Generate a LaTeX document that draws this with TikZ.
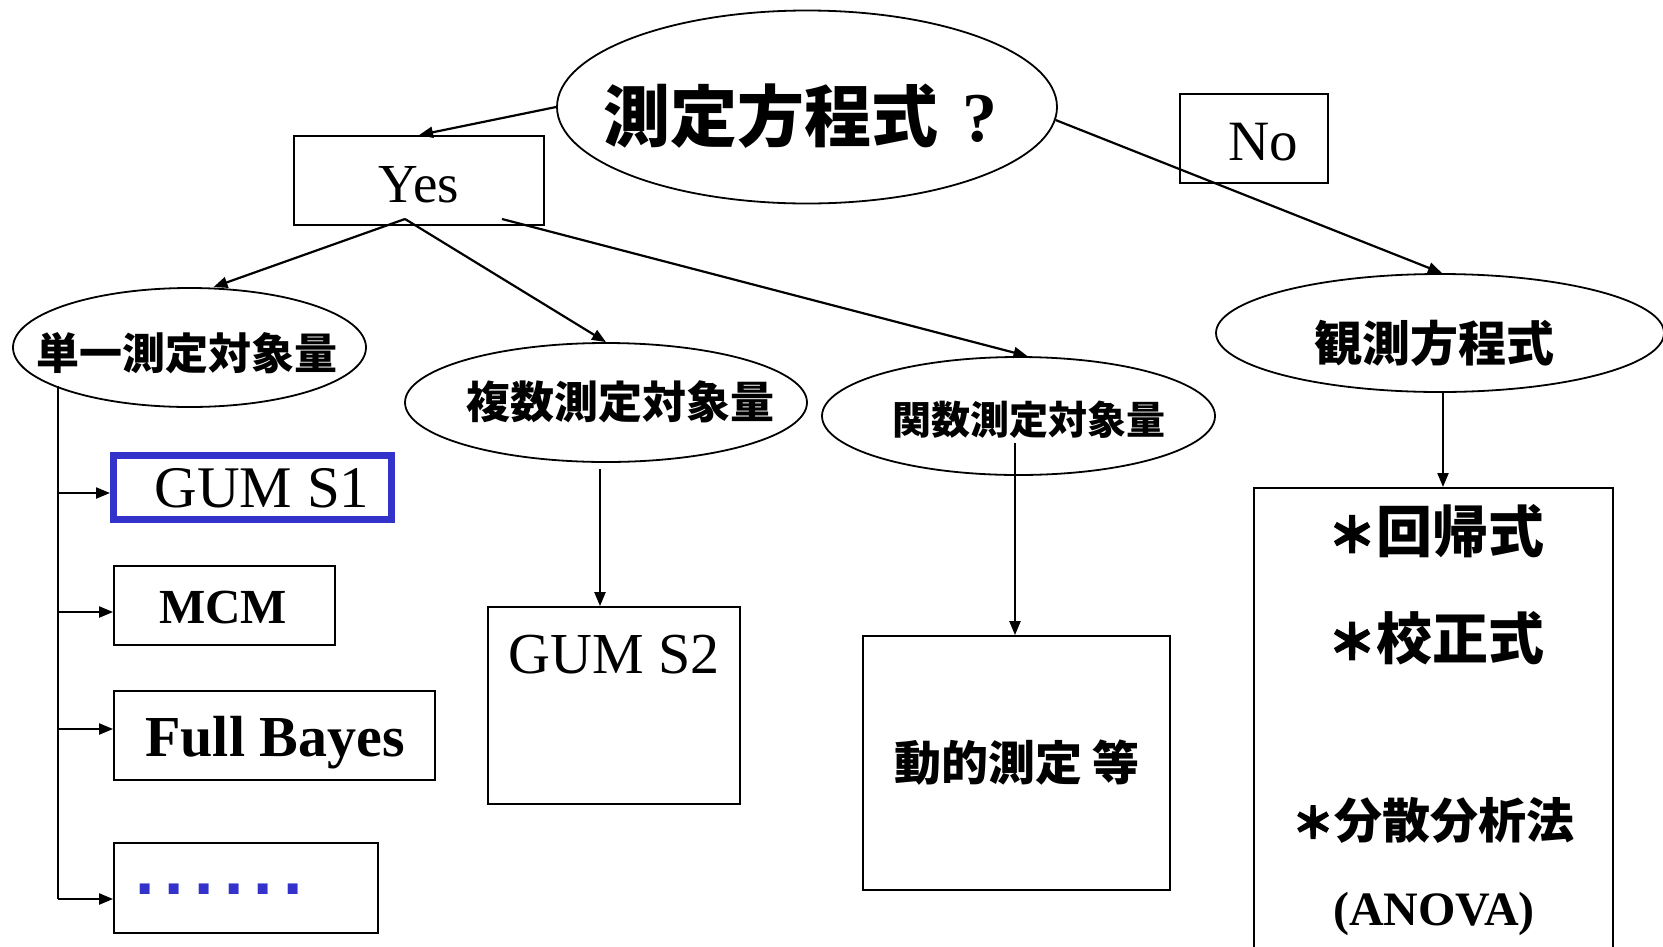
\documentclass[tikz,border=0pt]{standalone}
\usepackage{fontspec}
\setmainfont{Liberation Serif}
\newfontfamily\jp{Noto Sans CJK JP}
\newfontfamily\jpstar{Noto Sans CJK JP}[BoldFeatures={FakeBold=3}]
\newfontfamily\dvs{DejaVu Sans}
\usetikzlibrary{shapes.geometric,arrows.meta,calc}
\definecolor{gumblue}{RGB}{51,51,204}
\newcommand\fsz[1]{\fontsize{#1}{#1}\selectfont}
\newcommand\bulletstar[1]{{\jpstar\bfseries\fsz{#1}＊}}
\begin{document}
\begin{tikzpicture}[x=1pt,y=-1pt,
  box/.style={draw, line width=1.8pt, rectangle, inner sep=0pt},
  ell/.style={draw, line width=1.8pt, ellipse, inner sep=0pt},
  arr/.style={line width=2.2pt, -{Triangle[length=14pt,width=11pt]}},
  lbl/.style={inner sep=0pt},
  jpt/.style={inner sep=0pt, font=\jp\bfseries},
]
\useasboundingbox (0,0) rectangle (1663,946);
\fill[white] (0,0) rectangle (1663,946);

% shapes
\node[ell, minimum width=500pt, minimum height=193pt] (q) at (807,107) {};
\node[box, minimum width=250pt, minimum height=89pt] (yes) at (419,180.5) {};
\node[box, minimum width=148pt, minimum height=89pt] (no) at (1254,138.5) {};
\node[ell, minimum width=353pt, minimum height=119pt] (single) at (189.5,347.5) {};
\node[ell, minimum width=402pt, minimum height=119pt] (multi) at (606,402.5) {};
\node[ell, minimum width=393pt, minimum height=118pt] (func) at (1018.5,416) {};
\node[ell, minimum width=448pt, minimum height=118pt] (obs) at (1440,333) {};
\node[box, draw=gumblue, line width=7pt, minimum width=278pt, minimum height=64pt] (s1) at (252.5,487.5) {};
\node[box, minimum width=221pt, minimum height=79pt] (mcm) at (224.5,605.5) {};
\node[box, minimum width=321pt, minimum height=89pt] (fb) at (274.5,735.5) {};
\node[box, minimum width=264pt, minimum height=90pt] (dots) at (246,888) {};
\node[box, minimum width=252pt, minimum height=197pt] (s2) at (614,705.5) {};
\node[box, minimum width=307pt, minimum height=254pt] (dyn) at (1016.5,763) {};
\node[box, minimum width=359pt, minimum height=600pt, anchor=north] (rb) at (1433.5,487) {};

% texts
\node[jpt] (qt) at (800,116) {\fsz{67}測定方程式\hspace{24pt}{\rmfamily\fsz{70}?}};
\node[lbl, anchor=base] (yest) at (419,202) {\fsz{55}Yes};
\node[lbl, anchor=base] (not) at (1263,160) {\fsz{57}No};
\node[jpt] (singlet) at (187,353) {\fsz{43}単一測定対象量};
\node[jpt] (multit) at (620,402) {\fsz{44}複数測定対象量};
\node[jpt] (funct) at (1029,420) {\fsz{39}関数測定対象量};
\node[jpt] (obst) at (1434,343) {\fsz{48}観測方程式};
\node[lbl, anchor=base] (s1t) at (262,507) {\fsz{59}GUM S1};
\node[lbl, anchor=base] (mcmt) at (223,623) {\bfseries\fsz{49}MCM};
\node[lbl, anchor=base] (fbt) at (275,756) {\bfseries\fsz{58}Full Bayes};
\node[lbl, text=gumblue] (dotst) at (219,889) {\dvs\bfseries\fsz{56}.\kern8.3pt.\kern8.3pt.\kern8.3pt.\kern8.3pt.\kern8.3pt.};
\node[lbl, anchor=base] (s2t) at (614,673) {\fsz{58}GUM S2};
\node[jpt] (dynt) at (1017,763) {\fsz{47}動的測定 等};
\node[jpt] (r1) at (1436,531) {\bulletstar{48}\fsz{56}回帰式};
\node[jpt] (r2) at (1436,638) {\bulletstar{48}\fsz{56}校正式};
\node[jpt] (r3) at (1433,820) {\bulletstar{42}\fsz{48}分散分析法};
\node[lbl, anchor=base] (r4) at (1434,925) {\bfseries\fsz{48}(ANOVA)};

% connectors
\coordinate (yb1) at (405,219);
\coordinate (yb2) at (502,219);
\draw[arr] (q.west) -- (yes.north);
\draw[arr] (q.-3.5) -- ($(obs.north)+(2,0)$);
\draw[arr] (yb1) -- ($(single.north)+(24,0)$);
\draw[arr] (yb1) -- (multi.north);
\draw[arr] (yb2) -- ($(func.north)+(9,0)$);

\coordinate (m1) at (600,469);
\draw[arr] (m1) -- (m1 |- s2.north);
\coordinate (f1) at (1015,443);
\draw[arr] (f1) -- (f1 |- dyn.north);
\coordinate (o1) at (1443,392);
\draw[arr] (o1) -- (o1 |- rb.north);

\coordinate (t1) at (58,386);
\coordinate (t2) at (58,899);
\draw[line width=1.8pt] (t1) -- (t2);
\coordinate (a1) at (58,493);
\coordinate (a2) at (58,612);
\coordinate (a3) at (58,729);
\draw[arr] (a1) -- (a1 -| s1.west);
\draw[arr] (a2) -- (a2 -| mcm.west);
\draw[arr] (a3) -- (a3 -| fb.west);
\draw[arr] (t2) -- (t2 -| dots.west);
\end{tikzpicture}
\end{document}
